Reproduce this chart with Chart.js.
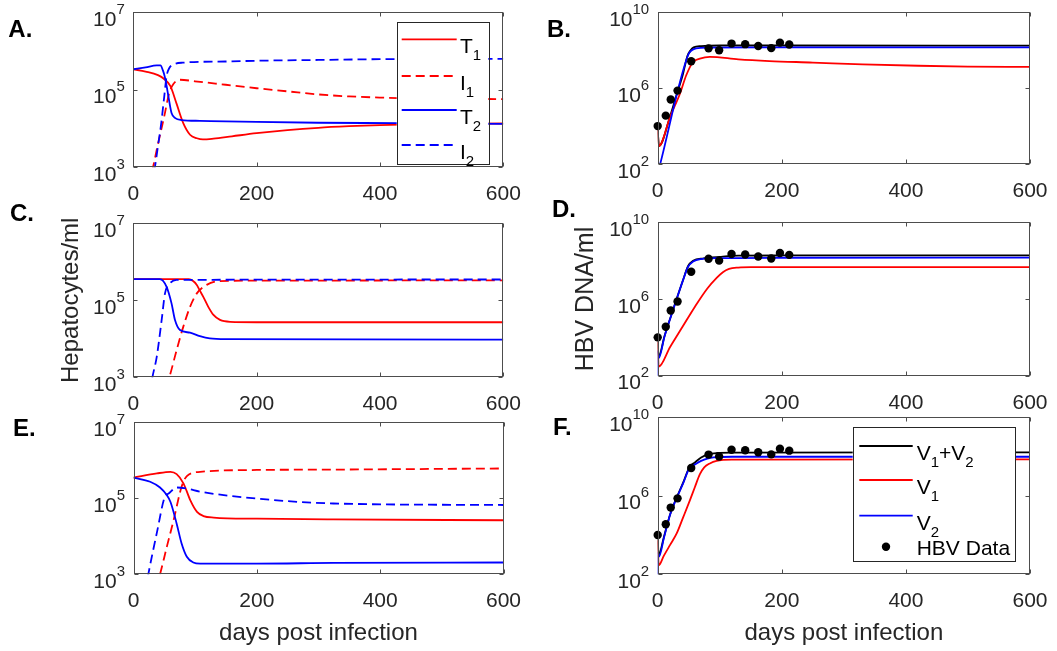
<!DOCTYPE html>
<html>
<head>
<meta charset="utf-8">
<script src="https://cdn.jsdelivr.net/npm/chart.js@4.4.1/dist/chart.umd.min.js"></script>
<style>
  html, body { margin: 0; padding: 0; background: #fff; }
  #wrap { position: relative; width: 1057px; height: 651px; }
  #wrap canvas { position: absolute; left: 0; top: 0; }
</style>
</head>
<body>
<div id="wrap">
  <canvas id="pA" width="1057" height="651"></canvas>
  <canvas id="pB" width="1057" height="651"></canvas>
  <canvas id="pC" width="1057" height="651"></canvas>
  <canvas id="pD" width="1057" height="651"></canvas>
  <canvas id="pE" width="1057" height="651"></canvas>
  <canvas id="pF" width="1057" height="651"></canvas>
</div>
<script>
// values are log10 of the quantity

// common x ticks
const xTicks = [0, 200, 400, 600];

// HBV data (same in B, D, F)
const hbvDays = [0, 13, 21, 32, 54, 82, 99, 119, 141, 162, 183, 197, 212];
const hbvLog  = [4.0, 4.55, 5.4, 5.87, 7.42, 8.1, 8.0, 8.35, 8.32, 8.22, 8.11, 8.4, 8.3];

// panel A (hepatocytes)
const aT1Days = [0, 20, 40, 50, 60, 70, 81, 92, 103, 113, 130, 160, 200, 250, 300, 350, 400, 450, 500, 600];
const aT1Log  = [5.53, 5.47, 5.38, 5.28, 5.1, 4.65, 4.14, 3.84, 3.75, 3.72, 3.74, 3.8, 3.88, 3.96, 4.02, 4.06, 4.09, 4.11, 4.12, 4.13];
const aI1Days = [20, 32, 40, 50, 58, 65, 76, 100, 150, 200, 250, 300, 350, 400, 450, 500, 600];
const aI1Log  = [2.2, 3.0, 3.6, 4.3, 4.9, 5.15, 5.26, 5.22, 5.13, 5.04, 4.96, 4.88, 4.83, 4.8, 4.78, 4.77, 4.76];
const aT2Days = [0, 20, 38, 44, 48, 51, 54, 57, 62, 68, 78, 108, 200, 300, 427, 600];
const aT2Log  = [5.53, 5.58, 5.63, 5.63, 5.5, 5.34, 5.1, 4.82, 4.4, 4.27, 4.22, 4.2, 4.17, 4.15, 4.14, 4.12];
const aI2Days = [25, 35, 40, 45, 50, 54, 58, 65, 80, 150, 200, 300, 400, 600];
const aI2Log  = [2.2, 3.0, 3.55, 4.1, 4.8, 5.35, 5.55, 5.65, 5.7, 5.73, 5.75, 5.77, 5.79, 5.8];

// panel B (virus)
const bVDays  = [0, 2, 20, 30, 40, 48, 53, 58, 70, 100, 200, 600];
const bVLog   = [3.79, 2.95, 4.52, 5.6, 6.65, 7.7, 8.0, 8.15, 8.22, 8.25, 8.25, 8.24];
const bV1Days = [0, 2, 20, 36, 46, 57, 68, 84, 130, 180, 250, 330, 420, 500, 600];
const bV1Log  = [3.79, 2.95, 4.49, 5.72, 6.68, 7.38, 7.56, 7.65, 7.52, 7.43, 7.35, 7.25, 7.18, 7.14, 7.12];
const bV2Days = [0, 4, 49, 55, 62, 80, 200, 600];
const bV2Log  = [1.5, 2.0, 7.75, 8.0, 8.1, 8.14, 8.15, 8.15];

// panel C
const cT1Days = [0, 90, 97, 103, 108, 113.5, 121.6, 130, 140.6, 157, 200, 600];
const cT1Log  = [5.55, 5.55, 5.5, 5.4, 5.25, 5.09, 4.83, 4.62, 4.49, 4.44, 4.43, 4.43];
const cI1Days = [45, 58.4, 70.3, 81, 92, 103, 119, 140.6, 200, 600];
const cI1Log  = [2.4, 3.0, 3.71, 4.31, 4.83, 5.18, 5.4, 5.5, 5.51, 5.52];
const cT2Days = [0, 43, 54, 62, 67.6, 75.7, 92, 108, 124, 151, 600];
const cT2Log  = [5.55, 5.55, 5.35, 4.92, 4.49, 4.23, 4.16, 4.07, 4.01, 3.99, 3.98];
const cI2Days = [20, 31, 38, 46, 51.4, 59.5, 70, 600];
const cI2Log  = [1.9, 3.0, 3.53, 4.49, 5.18, 5.44, 5.53, 5.54];

// panel D
const dVDays  = [0, 1.5, 11, 25, 41, 49, 57, 74, 100, 130, 200, 600];
const dVLog   = [3.8, 3.0, 4.07, 5.46, 7.0, 7.72, 8.0, 8.12, 8.2, 8.26, 8.27, 8.28];
const dV1Days = [0, 1.5, 20, 40, 60, 80, 95, 105, 115, 130, 150, 600];
const dV1Log  = [3.77, 2.47, 3.5, 4.55, 5.6, 6.55, 7.1, 7.4, 7.57, 7.64, 7.66, 7.66];
const dV2Days = [0, 0.4, 1.5, 11, 25, 41, 49, 57, 70, 100, 200, 600];
const dV2Log  = [0.5, 3.3, 2.9, 4.05, 5.45, 7.0, 7.68, 7.95, 8.08, 8.13, 8.15, 8.16];

// panel E
const eT1Days = [0, 38, 60, 70, 81, 92, 103, 113.5, 130, 200, 324, 600];
const eT1Log  = [5.54, 5.65, 5.69, 5.63, 5.39, 4.95, 4.64, 4.53, 4.49, 4.46, 4.44, 4.42];
const eI1Days = [30, 43, 54, 65, 78, 86.5, 108, 200, 324, 600];
const eI1Log  = [2.3, 3.0, 3.72, 4.42, 5.3, 5.58, 5.69, 5.74, 5.75, 5.78];
const eT2Days = [0, 27, 43, 54, 60, 70, 78, 86.5, 97, 108, 200, 324, 600];
const eT2Log  = [5.54, 5.43, 5.28, 5.08, 4.9, 4.33, 3.81, 3.46, 3.31, 3.28, 3.28, 3.3, 3.31];
const eI2Days = [15, 24, 38, 51, 57, 70, 86.5, 108, 200, 324, 600];
const eI2Log  = [2.2, 3.0, 4.1, 5.04, 5.12, 5.28, 5.25, 5.17, 4.99, 4.86, 4.82];

// panel F
const fVDays  = [0, 1.6, 10, 20, 30, 41, 51, 60, 70, 82, 95, 120, 600];
const fVLog   = [3.8, 3.0, 3.9, 5.05, 5.87, 6.67, 7.45, 7.7, 7.95, 8.12, 8.18, 8.2, 8.21];
const fV1Days = [0, 1.6, 10, 20, 30.6, 41, 52, 60, 68, 75, 84, 95, 120, 600];
const fV1Log  = [3.74, 2.46, 2.95, 3.5, 4.08, 4.9, 5.78, 6.45, 7.1, 7.45, 7.65, 7.78, 7.84, 7.86];
const fV2Days = [0, 0.4, 2, 10, 20, 30, 41, 51, 60, 70, 80, 90, 120, 600];
const fV2Log  = [0.5, 3.1, 2.9, 3.85, 5.05, 5.85, 6.63, 7.4, 7.6, 7.78, 7.9, 7.96, 7.99, 7.99];

const FONT = '"Liberation Sans", Arial, Helvetica, sans-serif';
const RED = '#ff0000', BLUE = '#0000ff', BLACK = '#000000';
const DASH = [9, 5];

const pts = (days, logs) => days.map((d, i) => ({ x: d, y: Math.pow(10, logs[i]) }));

function line(label, days, logs, color, dash) {
  return { kind: 'line', label, data: pts(days, logs), color, dash: dash || [] };
}
function dots(label, days, logs) {
  return { kind: 'dots', label, data: pts(days, logs), color: BLACK };
}

const hepLegend = [
  [['T'], ['1', 'sub']], [['I'], ['1', 'sub']], [['T'], ['2', 'sub']], [['I'], ['2', 'sub']]
];
const virLegend = [
  [['V'], ['1', 'sub'], ['+V'], ['2', 'sub']], [['V'], ['1', 'sub']], [['V'], ['2', 'sub']], [['HBV Data']]
];

const panels = [
  { id: 'pA', area: [133.3, 12.3, 503.3, 167.3], yExps: [3, 5, 7], letter: ['A.', 8.3, 37.3],
    series: [line('T1', aT1Days, aT1Log, RED), line('I1', aI1Days, aI1Log, RED, DASH),
             line('T2', aT2Days, aT2Log, BLUE), line('I2', aI2Days, aI2Log, BLUE, DASH)],
    legend: { box: [396.7, 21.7, 488.3, 164], rows: [39.3, 76, 110, 145], lx: [401.7, 456.7], tx: 460, labels: hepLegend } },
  { id: 'pB', area: [657.7, 12.3, 1030, 164], yExps: [2, 6, 10], letter: ['B.', 547, 36.5],
    series: [line('V', bVDays, bVLog, BLACK), line('V1', bV1Days, bV1Log, RED),
             line('V2', bV2Days, bV2Log, BLUE), dots('HBV', hbvDays, hbvLog)] },
  { id: 'pC', area: [133.3, 223.3, 503.3, 377.3], yExps: [3, 5, 7], letter: ['C.', 10, 220.5],
    ytitle: ['Hepatocytes/ml', 78.3, 24],
    series: [line('T1', cT1Days, cT1Log, RED), line('I1', cI1Days, cI1Log, RED, DASH),
             line('T2', cT2Days, cT2Log, BLUE), line('I2', cI2Days, cI2Log, BLUE, DASH)] },
  { id: 'pD', area: [657.7, 222.3, 1030, 375.7], yExps: [2, 6, 10], letter: ['D.', 552, 217],
    ytitle: ['HBV DNA/ml', 593, 25],
    series: [line('V', dVDays, dVLog, BLACK), line('V1', dV1Days, dV1Log, RED),
             line('V2', dV2Days, dV2Log, BLUE), dots('HBV', hbvDays, hbvLog)] },
  { id: 'pE', area: [133.5, 422, 503.5, 574.3], yExps: [3, 5, 7], letter: ['E.', 13, 436],
    xtitle: 'days post infection',
    series: [line('T1', eT1Days, eT1Log, RED), line('I1', eI1Days, eI1Log, RED, DASH),
             line('T2', eT2Days, eT2Log, BLUE), line('I2', eI2Days, eI2Log, BLUE, DASH)] },
  { id: 'pF', area: [657.7, 417.3, 1030, 574.3], yExps: [2, 6, 10], letter: ['F.', 553, 434.5],
    xtitle: 'days post infection',
    series: [line('V', fVDays, fVLog, BLACK), line('V1', fV1Days, fV1Log, RED),
             line('V2', fV2Days, fV2Log, BLUE), dots('HBV', hbvDays, hbvLog)],
    legend: { box: [852.7, 427.3, 1015, 561.7], rows: [446, 480, 515.7, 546.7], lx: [859.3, 912.7], tx: 916.7, labels: virLegend } }
];

// draws text made of parts, parts may be subscript
function drawParts(ctx, x, y, parts, size, subSize) {
  let cx = x;
  parts.forEach(p => {
    const sub = p[1] === 'sub';
    ctx.font = (sub ? subSize : size) + 'px ' + FONT;
    ctx.fillText(p[0], cx, sub ? y + 7 : y);
    cx += ctx.measureText(p[0]).width;
  });
}

function makeDecor(panel) {
  return {
    id: 'decor_' + panel.id,
    afterDatasetsDraw(chart) {
      const ctx = chart.ctx, a = chart.chartArea;
      const xs = chart.scales.x, ys = chart.scales.y;
      const L = Math.round(a.left) + 0.5, R = Math.round(a.right) - 0.5;
      const T = Math.round(a.top) + 0.5, B = Math.round(a.bottom) - 0.5;
      ctx.save();
      ctx.strokeStyle = '#4d4d4d';
      ctx.lineWidth = 1;
      ctx.strokeRect(L, T, R - L, B - T);
      // inward tick marks
      ctx.beginPath();
      xTicks.forEach(t => {
        const x = Math.round(xs.getPixelForValue(t)) + 0.5;
        ctx.moveTo(x, B); ctx.lineTo(x, B - 4);
        ctx.moveTo(x, T); ctx.lineTo(x, T + 4);
      });
      panel.yExps.forEach(e => {
        const y = Math.round(ys.getPixelForValue(Math.pow(10, e))) + 0.5;
        ctx.moveTo(L, y); ctx.lineTo(L + 4, y);
        ctx.moveTo(R, y); ctx.lineTo(R - 4, y);
      });
      ctx.stroke();

      // tick labels
      ctx.fillStyle = '#262626';
      ctx.textBaseline = 'alphabetic';
      ctx.textAlign = 'center';
      ctx.font = '21px ' + FONT;
      xTicks.forEach(t => ctx.fillText(String(t), xs.getPixelForValue(t), a.bottom + 33));
      ctx.textAlign = 'left';
      panel.yExps.forEach(e => {
        const y = ys.getPixelForValue(Math.pow(10, e));
        ctx.font = '15px ' + FONT;
        const we = ctx.measureText(String(e)).width;
        ctx.font = '21px ' + FONT;
        const wb = ctx.measureText('10').width;
        const right = a.left - 8.5;
        ctx.fillText('10', right - we - wb, y + 13.5);
        ctx.font = '15px ' + FONT;
        ctx.fillText(String(e), right - we, y + 1.5);
      });

      // axis titles
      if (panel.xtitle) {
        ctx.textAlign = 'center';
        ctx.font = '24px ' + FONT;
        ctx.fillText(panel.xtitle, (a.left + a.right) / 2, 640);
      }
      if (panel.ytitle) {
        ctx.save();
        ctx.translate(panel.ytitle[1], (a.top + a.bottom) / 2);
        ctx.rotate(-Math.PI / 2);
        ctx.textAlign = 'center';
        ctx.font = panel.ytitle[2] + 'px ' + FONT;
        ctx.fillText(panel.ytitle[0], 0, 0);
        ctx.restore();
      }

      // panel letter
      ctx.fillStyle = '#000';
      ctx.textAlign = 'left';
      ctx.font = 'bold 24px ' + FONT;
      ctx.fillText(panel.letter[0], panel.letter[1], panel.letter[2]);

      // legend
      const lg = panel.legend;
      if (lg) {
        const [x0, y0, x1, y1] = lg.box;
        ctx.fillStyle = '#fff';
        ctx.fillRect(x0, y0, x1 - x0, y1 - y0);
        ctx.strokeStyle = '#262626';
        ctx.strokeRect(Math.round(x0) + 0.5, Math.round(y0) + 0.5, Math.round(x1 - x0), Math.round(y1 - y0));
        panel.series.forEach((s, i) => {
          const ry = lg.rows[i];
          ctx.fillStyle = '#000';
          if (s.kind === 'dots') {
            ctx.beginPath();
            ctx.arc((lg.lx[0] + lg.lx[1]) / 2, ry, 4.2, 0, Math.PI * 2);
            ctx.fill();
            drawParts(ctx, lg.tx, ry + 8, lg.labels[i], 21, 15);
          } else {
            ctx.strokeStyle = s.color;
            ctx.lineWidth = 1.8;
            ctx.setLineDash(s.dash);
            ctx.beginPath();
            ctx.moveTo(lg.lx[0], ry); ctx.lineTo(lg.lx[1], ry);
            ctx.stroke();
            ctx.setLineDash([]);
            drawParts(ctx, lg.tx, ry + 14, lg.labels[i], 21, 15);
          }
        });
      }
      ctx.restore();
    }
  };
}

panels.forEach(panel => {
  const [x0, y0, x1, y1] = panel.area;
  const n = panel.series.length;
  const datasets = panel.series.map((s, i) => s.kind === 'dots' ? {
    label: s.label, data: s.data, showLine: false,
    pointRadius: 4.2, pointBackgroundColor: BLACK, pointBorderColor: BLACK, pointBorderWidth: 0,
    clip: false, order: n - i
  } : {
    label: s.label, data: s.data, borderColor: s.color, borderWidth: 1.8, borderDash: s.dash,
    pointRadius: 0, fill: false, cubicInterpolationMode: 'monotone', clip: 0, order: n - i
  });
  const yMin = Math.pow(10, panel.yExps[0]);
  const yMax = Math.pow(10, panel.yExps[panel.yExps.length - 1]);
  new Chart(document.getElementById(panel.id), {
    type: 'line',
    data: { datasets },
    options: {
      responsive: false,
      animation: false,
      events: [],
      layout: { padding: { left: x0, top: y0, right: 1057 - x1, bottom: 651 - y1 } },
      scales: {
        x: { type: 'linear', min: 0, max: 600, display: false },
        y: { type: 'logarithmic', min: yMin, max: yMax, display: false }
      },
      plugins: { legend: { display: false }, tooltip: { enabled: false } }
    },
    plugins: [makeDecor(panel)]
  });
});
</script>
</body>
</html>
